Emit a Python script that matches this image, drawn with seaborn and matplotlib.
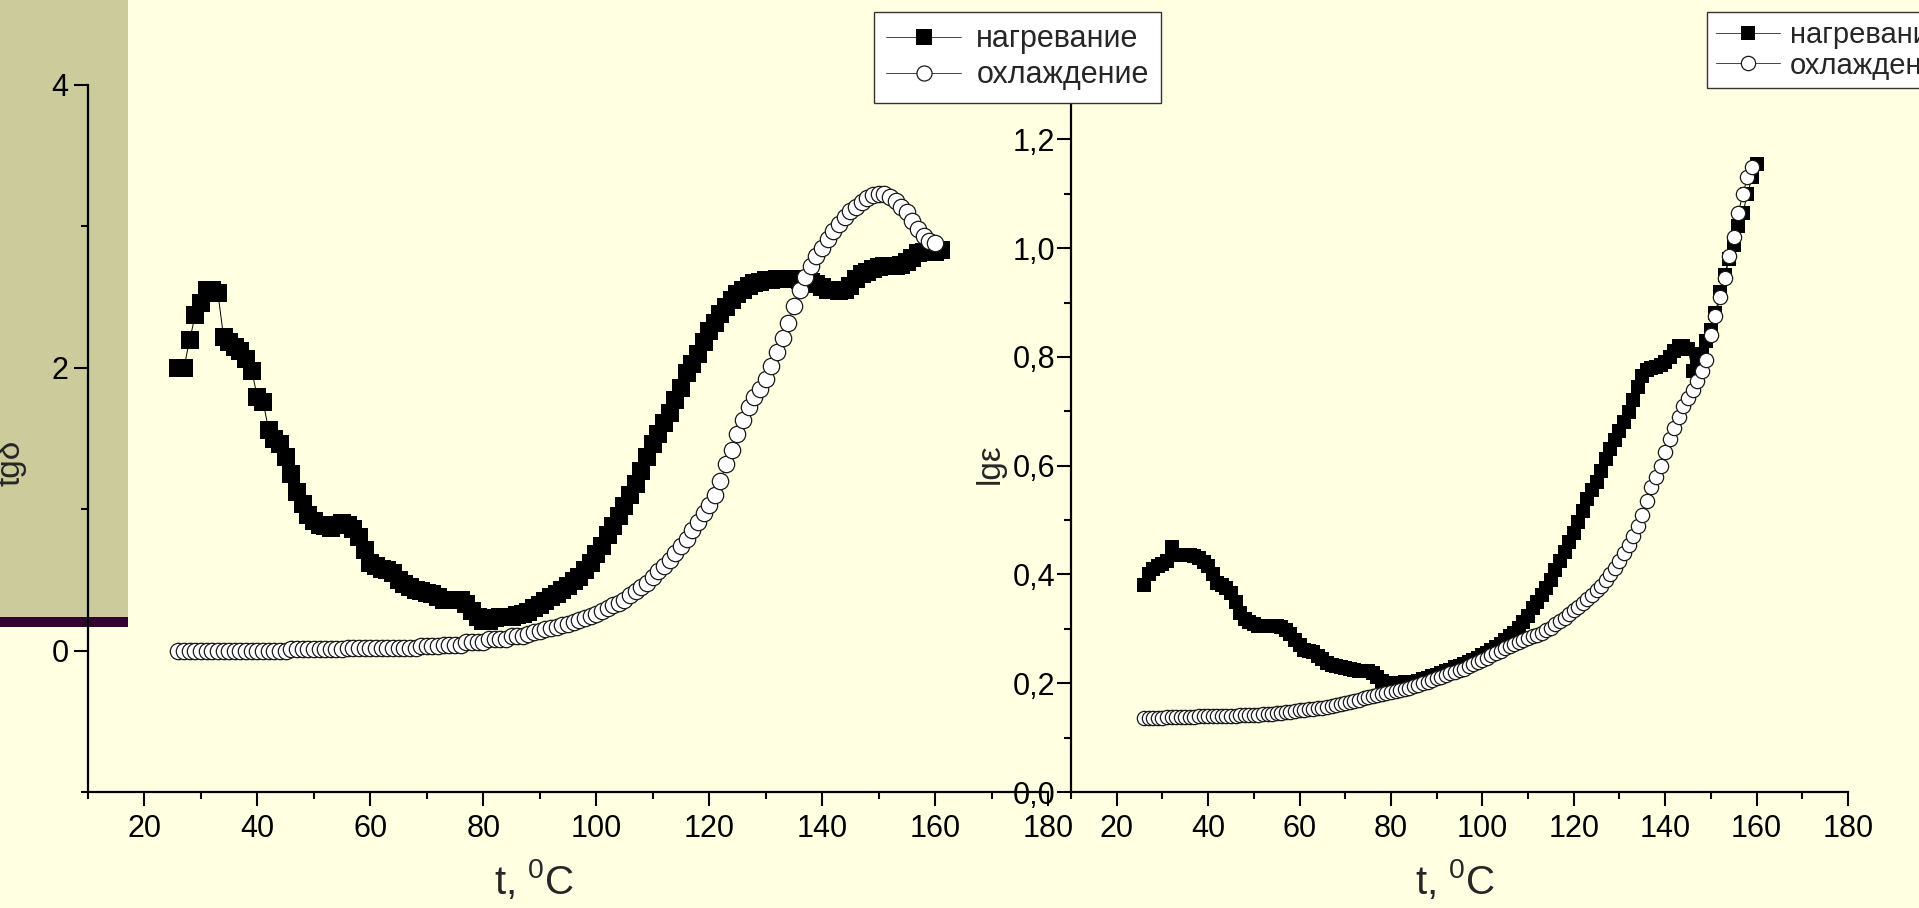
import matplotlib
matplotlib.use("Agg")
import matplotlib.pyplot as plt
import seaborn as sns
from matplotlib.ticker import MultipleLocator, FixedLocator, FixedFormatter
from matplotlib.patches import Rectangle

# ---------------------------------------------------------------- data
# dielectric loss tangent, heating run (t = 26..161 °C)
t_heat_tg = list(range(26, 162))
tg_heat = [
    2.00, 2.00, 2.20, 2.37, 2.46, 2.55, 2.55, 2.53, 2.22, 2.18,   # 26-35
    2.15, 2.12, 2.06, 1.98, 1.79, 1.76, 1.56, 1.50, 1.46, 1.37,   # 36-45
    1.25, 1.12, 1.04, 0.96, 0.92, 0.89, 0.88, 0.87, 0.89, 0.90,   # 46-55
    0.89, 0.86, 0.80, 0.71, 0.62, 0.60, 0.58, 0.57, 0.55, 0.50,   # 56-65
    0.47, 0.45, 0.43, 0.42, 0.41, 0.40, 0.38, 0.36, 0.36, 0.36,   # 66-75
    0.36, 0.33, 0.28, 0.24, 0.21, 0.21, 0.23, 0.24, 0.24, 0.24,   # 76-85
    0.25, 0.26, 0.27, 0.30, 0.32, 0.35, 0.38, 0.40, 0.43, 0.46,   # 86-95
    0.49, 0.52, 0.57, 0.62, 0.68, 0.74, 0.82, 0.88, 0.95, 1.02,   # 96-105
    1.10, 1.18, 1.27, 1.37, 1.46, 1.53, 1.61, 1.68, 1.77, 1.86,   # 106-115
    1.96, 2.03, 2.10, 2.18, 2.26, 2.32, 2.38, 2.43, 2.48, 2.52,   # 116-125
    2.55, 2.58, 2.60, 2.61, 2.62, 2.62, 2.63, 2.63, 2.63, 2.63,   # 126-135
    2.62, 2.62, 2.61, 2.59, 2.57, 2.55, 2.55, 2.54, 2.55, 2.58,   # 136-145
    2.63, 2.66, 2.68, 2.70, 2.71, 2.72, 2.72, 2.72, 2.73, 2.75,   # 146-155
    2.78, 2.81, 2.82, 2.82, 2.82, 2.83,                           # 156-161
]

# dielectric loss tangent, cooling run (t = 26..160 °C)
t_cool_tg = list(range(26, 161))
tg_cool = [
    0.00, 0.00, 0.00, 0.00, 0.00, 0.00, 0.00, 0.00, 0.00, 0.00,   # 26-35
    0.00, 0.00, 0.00, 0.00, 0.00, 0.00, 0.00, 0.00, 0.00, 0.00,   # 36-45
    0.01, 0.01, 0.01, 0.01, 0.01, 0.01, 0.01, 0.01, 0.01, 0.01,   # 46-55
    0.015, 0.015, 0.015, 0.015, 0.015, 0.015, 0.015, 0.02, 0.02, 0.02,  # 56-65
    0.02, 0.02, 0.02, 0.03, 0.03, 0.03, 0.03, 0.04, 0.04, 0.04,   # 66-75
    0.04, 0.06, 0.06, 0.06, 0.06, 0.08, 0.08, 0.08, 0.08, 0.10,   # 76-85
    0.10, 0.10, 0.12, 0.13, 0.14, 0.15, 0.16, 0.17, 0.18, 0.19,   # 86-95
    0.20, 0.215, 0.23, 0.245, 0.26, 0.28, 0.30, 0.32, 0.34, 0.36, # 96-105
    0.39, 0.42, 0.45, 0.48, 0.52, 0.56, 0.60, 0.64, 0.69, 0.74,   # 106-115
    0.79, 0.85, 0.91, 0.97, 1.03, 1.10, 1.20, 1.32, 1.42, 1.53,   # 116-125
    1.63, 1.72, 1.79, 1.85, 1.92, 2.01, 2.11, 2.21, 2.32, 2.44,   # 126-135
    2.55, 2.64, 2.72, 2.79, 2.85, 2.91, 2.97, 3.02, 3.07, 3.11,   # 136-145
    3.14, 3.17, 3.20, 3.22, 3.23, 3.23, 3.21, 3.18, 3.14, 3.10,   # 146-155
    3.04, 2.98, 2.93, 2.90, 2.88,                                 # 156-160
]

# log of permittivity, heating run (t = 26..160 °C)
t_heat_lg = list(range(26, 161))
lg_heat = [
    0.380, 0.400, 0.410, 0.415, 0.420, 0.425, 0.450, 0.435, 0.435, 0.435,  # 26-35
    0.435, 0.434, 0.430, 0.423, 0.415, 0.400, 0.385, 0.380, 0.375, 0.365,  # 36-45
    0.350, 0.330, 0.318, 0.312, 0.308, 0.306, 0.305, 0.305, 0.305, 0.306,  # 46-55
    0.304, 0.298, 0.290, 0.280, 0.270, 0.262, 0.260, 0.257, 0.250, 0.244,  # 56-65
    0.238, 0.234, 0.232, 0.230, 0.228, 0.226, 0.224, 0.223, 0.223, 0.222,  # 66-75
    0.218, 0.212, 0.205, 0.196, 0.196, 0.200, 0.201, 0.202, 0.202, 0.203,  # 76-85
    0.205, 0.208, 0.210, 0.213, 0.216, 0.219, 0.222, 0.225, 0.229, 0.232,  # 86-95
    0.236, 0.239, 0.243, 0.247, 0.251, 0.256, 0.261, 0.267, 0.273, 0.279,  # 96-105
    0.286, 0.293, 0.301, 0.312, 0.324, 0.338, 0.350, 0.362, 0.375, 0.390,  # 106-115
    0.408, 0.425, 0.442, 0.460, 0.476, 0.496, 0.517, 0.538, 0.555, 0.570,  # 116-125
    0.590, 0.612, 0.630, 0.648, 0.664, 0.680, 0.698, 0.720, 0.745, 0.765,  # 126-135
    0.776, 0.780, 0.782, 0.785, 0.790, 0.800, 0.810, 0.820, 0.820, 0.815,  # 136-145
    0.775, 0.790, 0.805, 0.830, 0.850, 0.880, 0.920, 0.950, 0.980, 1.005,  # 146-155
    1.040, 1.065, 1.100, 1.130, 1.155,                                     # 156-160
]

# log of permittivity, cooling run (t = 26..159 °C)
t_cool_lg = list(range(26, 160))
lg_cool = [
    0.136, 0.136, 0.136, 0.136, 0.136, 0.137, 0.137, 0.137, 0.137, 0.138,  # 26-35
    0.138, 0.138, 0.139, 0.139, 0.139, 0.139, 0.140, 0.140, 0.140, 0.140,  # 36-45
    0.140, 0.141, 0.141, 0.141, 0.142, 0.142, 0.143, 0.143, 0.144, 0.145,  # 46-55
    0.146, 0.147, 0.148, 0.149, 0.150, 0.151, 0.152, 0.153, 0.154, 0.155,  # 56-65
    0.157, 0.158, 0.160, 0.162, 0.164, 0.166, 0.168, 0.170, 0.172, 0.174,  # 66-75
    0.176, 0.178, 0.180, 0.182, 0.184, 0.186, 0.188, 0.190, 0.192, 0.195,  # 76-85
    0.197, 0.200, 0.203, 0.206, 0.209, 0.212, 0.215, 0.218, 0.221, 0.224,  # 86-95
    0.227, 0.231, 0.235, 0.239, 0.243, 0.247, 0.251, 0.256, 0.260, 0.264,  # 96-105
    0.268, 0.272, 0.276, 0.280, 0.283, 0.286, 0.289, 0.292, 0.297, 0.302,  # 106-115
    0.308, 0.314, 0.320, 0.327, 0.334, 0.341, 0.347, 0.355, 0.363, 0.371,  # 116-125
    0.379, 0.390, 0.400, 0.411, 0.425, 0.440, 0.455, 0.470, 0.490, 0.510,  # 126-135
    0.535, 0.560, 0.580, 0.600, 0.625, 0.650, 0.670, 0.690, 0.710, 0.725,  # 136-145
    0.740, 0.755, 0.775, 0.795, 0.840, 0.875, 0.910, 0.945, 0.985, 1.020,  # 146-155
    1.065, 1.100, 1.130, 1.150,                                            # 156-159
]

series_labels = ["нагревание", "охлаждение"]

x_ticks = [20, 40, 60, 80, 100, 120, 140, 160, 180]
x_tick_labels = ["20", "40", "60", "80", "100", "120", "140", "160", "180"]
tg_ticks = [0, 2, 4]
tg_tick_labels = ["0", "2", "4"]
lg_ticks = [0.0, 0.2, 0.4, 0.6, 0.8, 1.0, 1.2]
lg_tick_labels = ["0,0", "0,2", "0,4", "0,6", "0,8", "1,0", "1,2"]

x_label = r"t, $^{\mathregular{0}}$C"
tg_label = "tgδ"
lg_label = "lgε"

# ---------------------------------------------------------------- style
BG = "#FFFFE1"
KHAKI = "#CBCB9B"
PLUM = "#330033"

sns.set_style("ticks")
plt.rcParams["font.family"] = ["Liberation Sans", "DejaVu Sans"]
plt.rcParams["mathtext.default"] = "regular"
plt.rcParams["axes.unicode_minus"] = False

W, H = 1919, 908
fig = plt.figure(figsize=(W / 100, H / 100), dpi=100, facecolor=BG)

# decorative block on the left edge
fig.patches.append(Rectangle((0, (H - 617) / H), 128 / W, 617 / H,
                             transform=fig.transFigure, facecolor=KHAKI,
                             edgecolor="none", zorder=-2))
fig.patches.append(Rectangle((0, (H - 627) / H), 128 / W, 10 / H,
                             transform=fig.transFigure, facecolor=PLUM,
                             edgecolor="none", zorder=-1))

ax1 = fig.add_axes([88 / W, (H - 792) / H, 960 / W, 707 / H])
ax2 = fig.add_axes([1071 / W, (H - 792) / H, 777 / W, 707 / H])


def draw_pair(ax, th, vh, tc, vc, sq, circ):
    sns.lineplot(x=th, y=vh, ax=ax, color="black", lw=0.7, marker="s",
                 markersize=sq, markerfacecolor="black",
                 markeredgecolor="black", markeredgewidth=0,
                 estimator=None, sort=False, legend=False)
    sns.lineplot(x=tc, y=vc, ax=ax, color="black", lw=0.7, marker="o",
                 markersize=circ, markerfacecolor="white",
                 markeredgecolor="#1a1a1a", markeredgewidth=0.9,
                 estimator=None, sort=False, legend=False)


draw_pair(ax1, t_heat_tg, tg_heat, t_cool_tg, tg_cool, 12.3, 11.8)
draw_pair(ax2, t_heat_lg, lg_heat, t_cool_lg, lg_cool, 9.5, 10.3)


def style_axes(ax, ylim, yticks, yticklabels, ymin_step, ypad):
    ax.set_facecolor("none")
    ax.set_xlim(10, 180)
    ax.set_ylim(*ylim)
    for side in ("top", "right"):
        ax.spines[side].set_visible(False)
    for side in ("left", "bottom"):
        ax.spines[side].set_linewidth(1.6)
        ax.spines[side].set_color("black")
    ax.xaxis.set_major_locator(FixedLocator(x_ticks))
    ax.xaxis.set_major_formatter(FixedFormatter(x_tick_labels))
    ax.xaxis.set_minor_locator(MultipleLocator(10))
    ax.yaxis.set_major_locator(FixedLocator(yticks))
    ax.yaxis.set_major_formatter(FixedFormatter(yticklabels))
    ax.yaxis.set_minor_locator(MultipleLocator(ymin_step))
    ax.tick_params(which="major", direction="out", length=10, width=1.5,
                   labelsize=22, color="black", labelcolor="black")
    ax.tick_params(which="minor", direction="out", length=5, width=1.5,
                   color="black")
    ax.tick_params(axis="x", which="major", pad=6)
    ax.tick_params(axis="y", which="major", pad=ypad)
    ax.set_xlabel(x_label, fontsize=29)


style_axes(ax1, (-1, 4), tg_ticks, tg_tick_labels, 1, 4)
style_axes(ax2, (0, 1.3), lg_ticks, lg_tick_labels, 0.1, 1.5)

ax1.set_ylabel(tg_label, fontsize=24)
ax2.set_ylabel(lg_label, fontsize=24)
ax1.yaxis.set_label_coords(-0.080, 0.465)
ax2.yaxis.set_label_coords(-0.104, 0.465)
for ax, xc in ((ax1, 0.4646), (ax2, 0.4942)):
    ax.xaxis.label.set_va("center")
    ax.xaxis.set_label_coords(xc, -0.124)
for ax in (ax1, ax2):
    ax.yaxis.label.set_va("center")

# legends sit on top of both panels
legend_specs = (
    (ax1, 874, 22, 2.45, 0.5, 0.2, 0.4, 0.92),
    (ax2, 1707, 21, 2.2, 0.35, 0.1, 0.3, 1.0),
)
for ax, x0, fs, hl, htp, lsp, bpad, scale in legend_specs:
    leg = fig.legend(ax.lines[:2], series_labels, loc="upper left",
                     bbox_to_anchor=(x0 / W, 1 - 12 / H),
                     bbox_transform=fig.transFigure, borderaxespad=0,
                     frameon=True, fancybox=False, shadow=False,
                     framealpha=1, facecolor="white", edgecolor="#333333",
                     handlelength=hl, handletextpad=htp, labelspacing=lsp,
                     borderpad=bpad, markerscale=scale,
                     prop={"size": fs})
    leg.get_frame().set_linewidth(1.0)
    for ln in leg.get_lines():
        ln.set_color("#444444")

fig.savefig("out.png", dpi=100, facecolor=BG)
